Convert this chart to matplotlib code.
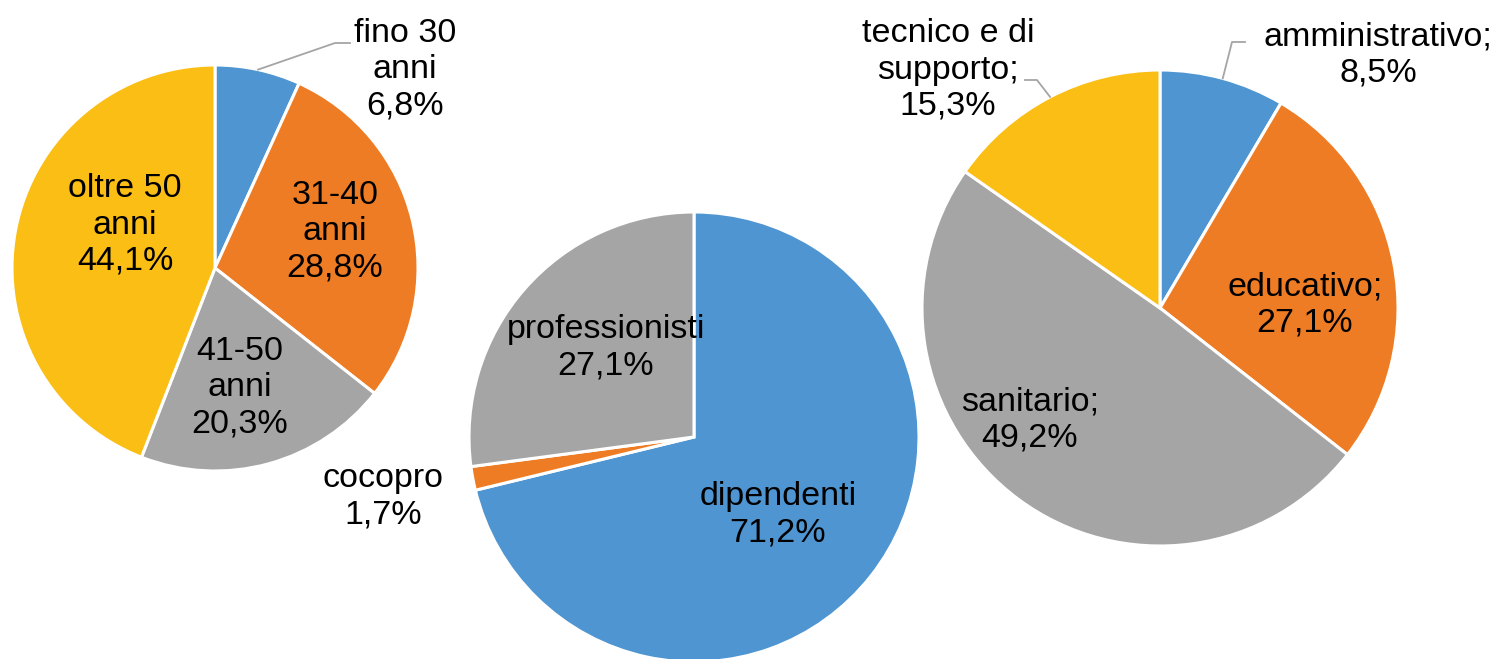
import numpy as np
import matplotlib.pyplot as plt

plt.rcParams['font.family'] = ['Liberation Sans', 'DejaVu Sans']

# Dati
eta_labels = ['fino 30\nanni', '31-40\nanni', '41-50\nanni', 'oltre 50\nanni']
eta_values = [6.8, 28.8, 20.3, 44.1]

contratto_labels = ['dipendenti', 'cocopro', 'professionisti']
contratto_values = [71.2, 1.7, 27.1]

profilo_labels = ['amministrativo;', 'educativo;', 'sanitario;', 'tecnico e di\nsupporto;']
profilo_values = [8.5, 27.1, 49.2, 15.3]

colori = ['#4E95D1', '#EE7C24', '#A5A5A5', '#FABE14']

W, H = 1496, 659
fig = plt.figure(figsize=(W / 100, H / 100), dpi=100)
ax = fig.add_axes([0, 0, 1, 1])
ax.set_xlim(0, W)
ax.set_ylim(0, H)
ax.set_aspect('equal')
ax.axis('off')

FS = 24.5
LS = 1.22


def pct(v):
    return f'{v:.1f}%'.replace('.', ',')


def torta(valori, centro, raggio):
    wedges, _ = ax.pie(valori, colors=colori[:len(valori)], startangle=90,
                       counterclock=False, center=centro, radius=raggio,
                       wedgeprops=dict(edgecolor='white', linewidth=2.2))
    return wedges


def punto_bordo(w, centro, raggio):
    a = np.deg2rad((w.theta1 + w.theta2) / 2)
    return centro[0] + raggio * np.cos(a), centro[1] + raggio * np.sin(a)


# --- Torta 1: età ---
c1, r1 = (215, H - 268), 203
w1 = torta(eta_values, c1, r1)
pos1 = [(405, H - 70), (335, H - 232), (240, H - 388), (125, H - 225)]
for lab, v, p in zip(eta_labels, eta_values, pos1):
    ax.text(p[0], p[1], f'{lab}\n{pct(v)}', ha='center', va='center',
            fontsize=FS, linespacing=LS)
bx, by = punto_bordo(w1[0], c1, r1)
ax.plot([bx, 335, 350], [by, H - 43, H - 43], color='#A5A5A5', lw=1.3)

# --- Torta 2: contratto ---
c2, r2 = (694, H - 437), 225
w2 = torta(contratto_values, c2, r2)
pos2 = [(778, H - 515), (383, H - 497), (606, H - 348)]
for lab, v, p in zip(contratto_labels, contratto_values, pos2):
    ax.text(p[0], p[1], f'{lab}\n{pct(v)}', ha='center', va='center',
            fontsize=FS, linespacing=LS)

# --- Torta 3: profilo ---
c3, r3 = (1160, H - 308), 238
w3 = torta(profilo_values, c3, r3)
pos3 = [(1378, H - 55), (1305, H - 305), (1030, H - 420), (948, H - 70)]
for lab, v, p in zip(profilo_labels, profilo_values, pos3):
    ax.text(p[0], p[1], f'{lab}\n{pct(v)}', ha='center', va='center',
            fontsize=FS, linespacing=LS)
bx, by = punto_bordo(w3[0], c3, r3)
ax.plot([bx, 1232, 1245], [by, H - 42, H - 42], color='#A5A5A5', lw=1.3)
bx, by = punto_bordo(w3[3], c3, r3)
ax.plot([bx, 1037, 1025], [by, H - 80, H - 80], color='#A5A5A5', lw=1.3)

ax.set_xlim(0, W)
ax.set_ylim(0, H)
fig.savefig('out.png', dpi=100)
plt.close(fig)
